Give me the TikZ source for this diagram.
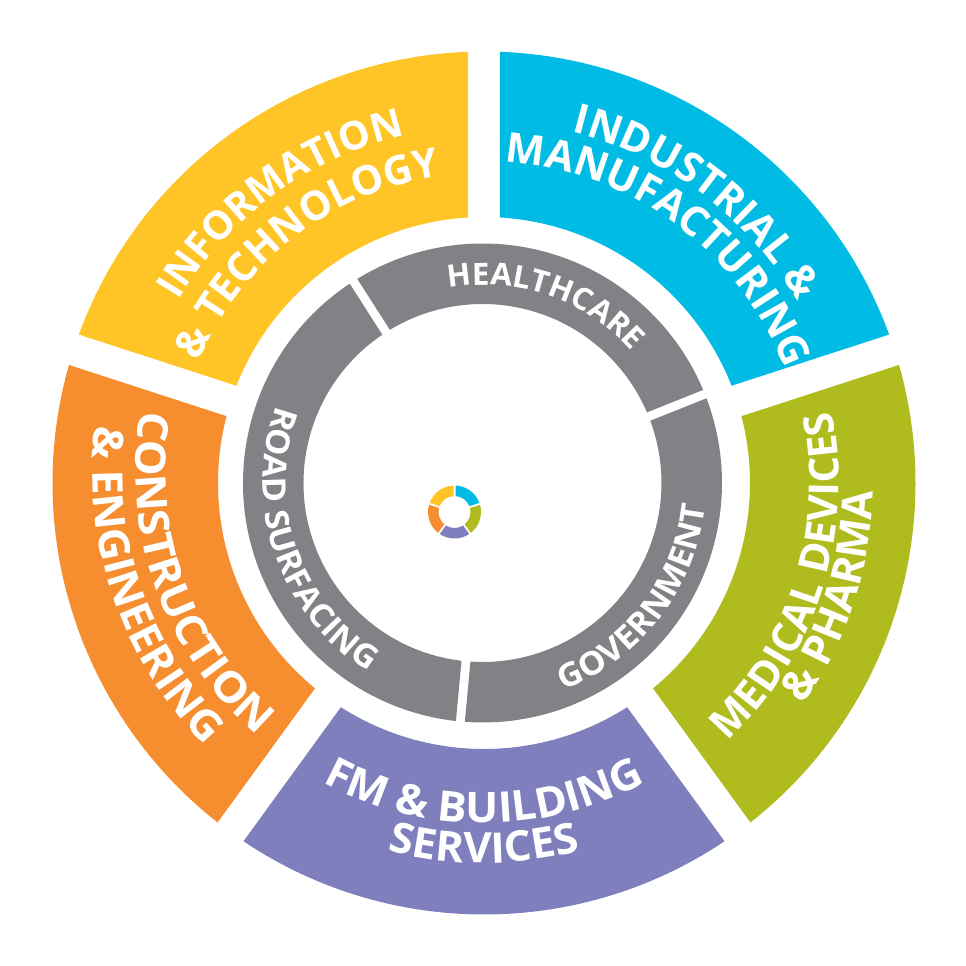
\documentclass[tikz,border=0pt]{standalone}
\usepackage{fontspec}
\setmainfont{Open Sans}
\usepackage{xcolor}
\usetikzlibrary{decorations.text}
\definecolor{segyellow}{HTML}{FFC425}
\definecolor{segblue}{HTML}{00BCE4}
\definecolor{segolive}{HTML}{B0BB1E}
\definecolor{segpurple}{HTML}{7F7FBD}
\definecolor{segorange}{HTML}{F68D2E}
\definecolor{seggray}{HTML}{808285}
% #1 colour, #2 from, #3 to, #4 outer r, #5 inner r, #6 half gap
\newcommand{\ringseg}[6]{%
  \pgfmathsetmacro{\gapout}{asin(#6/#4)}%
  \pgfmathsetmacro{\gapin}{asin(#6/#5)}%
  \fill[#1] ({#2+\gapout}:#4) arc[start angle=#2+\gapout, end angle=#3-\gapout, radius=#4]
    -- ({#3-\gapin}:#5) arc[start angle=#3-\gapin, end angle=#2+\gapin, radius=#5] -- cycle;}
% #1 from angle, #2 to angle, #3 radius, #4 font size, #5 stretch, #6 text
\newcommand{\arclabel}[6]{%
  \path[decorate, decoration={text along path, text align=center,
      text={|\color{white}\bfseries\fontsize{#4}{#4}\selectfont\addfontfeature{FakeStretch=#5}|#6}}]
    (#1:#3) arc[start angle=#1, end angle=#2, radius=#3];}
\catcode`\&=12
\begin{document}
\begin{tikzpicture}[x=0.02cm,y=0.02cm]
\useasboundingbox (-484,-483) rectangle (482,483);

% outer ring
\ringseg{segblue}{18}{90}{431.5}{266}{16}
\ringseg{segolive}{-54}{18}{431.5}{266}{16}
\ringseg{segpurple}{-126}{-54}{431.5}{266}{16}
\ringseg{segorange}{162}{234}{431.5}{266}{16}
\ringseg{segyellow}{90}{162}{431.5}{266}{16}

% grey ring
\begin{scope}[shift={(-1.5,0)}]
\ringseg{seggray}{21.8}{122.6}{239.5}{179}{4.5}
\ringseg{seggray}{-95.3}{21.8}{239.5}{179}{4.5}
\ringseg{seggray}{122.6}{264.7}{239.5}{179}{4.5}
\end{scope}

% small ring in the middle
\begin{scope}[shift={(-29.5,-29)}]
\ringseg{segblue}{18}{90}{26.5}{16}{1}
\ringseg{segolive}{-54}{18}{26.5}{16}{1}
\ringseg{segpurple}{-126}{-54}{26.5}{16}{1}
\ringseg{segorange}{162}{234}{26.5}{16}{1}
\ringseg{segyellow}{90}{162}{26.5}{16}{1}
\end{scope}

% labels
\arclabel{176}{76}{356}{22.5}{1}{INFORMATION}
\arclabel{177.5}{77.5}{310}{23}{1}{& TECHNOLOGY}
\arclabel{103}{3}{362}{23.5}{1}{INDUSTRIAL &}
\arclabel{103.5}{3.5}{322}{23.5}{1}{MANUFACTURING}
\arclabel{-67.5}{32.5}{355}{23.5}{1}{MEDICAL DEVICES}
\arclabel{-68}{32}{389}{24}{1}{& PHARMA}
\arclabel{-140}{-40}{340}{24}{1.04}{FM & BUILDING}
\arclabel{-140}{-40}{380}{24}{1.03}{SERVICES}
\begin{scope}[shift={(-2.4,11.4)}]
\arclabel{149.8}{249.8}{346}{24}{1.08}{CONSTRUCTION}
\arclabel{149}{249}{389}{24}{1.05}{& ENGINEERING}
\end{scope}
\arclabel{121}{21}{198}{17.5}{1.02}{HEALTHCARE}
\arclabel{-87.5}{12.5}{222}{18.5}{1.06}{GOVERNMENT}
\arclabel{149}{249}{221}{18.5}{1.06}{ROAD SURFACING}
\end{tikzpicture}
\end{document}
